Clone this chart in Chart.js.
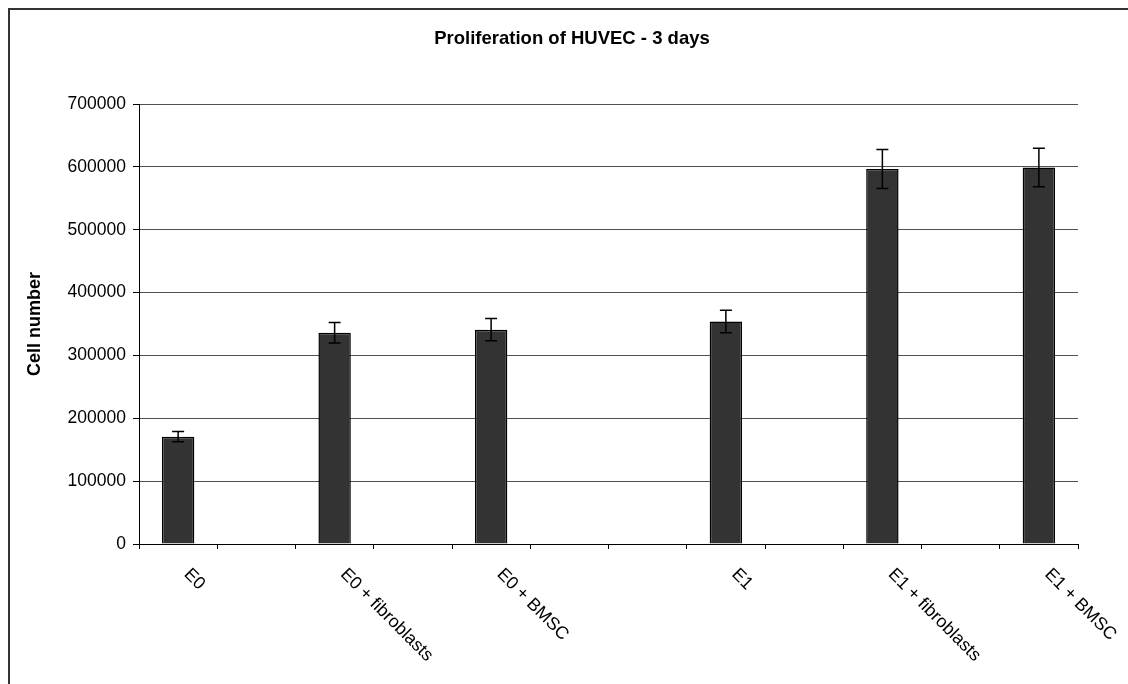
<!DOCTYPE html>
<html>
<head>
<meta charset="utf-8">
<script src="https://cdn.jsdelivr.net/npm/chart.js@4"></script>
<style>
  body { margin: 0; background: #fff; }
  canvas { display: block; }
</style>
</head>
<body>
<canvas id="chart" width="1128" height="684"></canvas>
<script>
// data (empty slots are the gaps on the axis)
const categories = ["E0", "", "E0 + fibroblasts", "", "E0 + BMSC", "", "", "E1", "", "E1 + fibroblasts", "", "E1 + BMSC"];
const cellNumber = [170700, null, 336000, null, 341000, null, null, 354000, null, 596500, null, 599000];
const cellError = [8200, null, 16400, null, 17800, null, null, 17800, null, 31000, null, 30800];
const yMin = 0;
const yMax = 700000;
const yStep = 100000;

const FONT = "'Liberation Sans', Arial, sans-serif";

// outer frame of the chart
const framePlugin = {
  id: "frame",
  beforeDraw(chart) {
    const ctx = chart.ctx;
    ctx.save();
    ctx.strokeStyle = "#333333";
    ctx.lineWidth = 2;
    ctx.strokeRect(9, 9, 1300, 1300);
    ctx.restore();
  },
};

// error bars on top of the columns
const errorBarPlugin = {
  id: "errorBars",
  afterDatasetsDraw(chart) {
    const ctx = chart.ctx;
    const y = chart.scales.y;
    const meta = chart.getDatasetMeta(0);
    ctx.save();
    ctx.strokeStyle = "#000";
    ctx.lineWidth = 1.5;
    cellNumber.forEach((v, i) => {
      if (v == null) return;
      const x = meta.data[i].x;
      const top = y.getPixelForValue(v + cellError[i]);
      const bot = y.getPixelForValue(v - cellError[i]);
      ctx.beginPath();
      ctx.moveTo(x, top);
      ctx.lineTo(x, bot);
      ctx.moveTo(x - 6, top);
      ctx.lineTo(x + 6, top);
      ctx.moveTo(x - 6, bot);
      ctx.lineTo(x + 6, bot);
      ctx.stroke();
    });
    ctx.restore();
  },
};

// category labels turned 45 degrees clockwise, reading down to the right
const xLabelPlugin = {
  id: "xLabels",
  afterDraw(chart) {
    const ctx = chart.ctx;
    const x = chart.scales.x;
    ctx.save();
    ctx.font = "17.8px " + FONT;
    ctx.fillStyle = "#000";
    ctx.textAlign = "left";
    ctx.textBaseline = "alphabetic";
    categories.forEach((label, i) => {
      if (!label) return;
      ctx.save();
      ctx.translate(x.getPixelForValue(i) + 5, x.top + 31);
      ctx.rotate(Math.PI / 4);
      ctx.fillText(label, 0, 0);
      ctx.restore();
    });
    ctx.restore();
  },
};

new Chart(document.getElementById("chart"), {
  type: "bar",
  data: {
    labels: categories,
    datasets: [
      {
        data: cellNumber,
        backgroundColor: "#333333",
        borderColor: "#000",
        borderWidth: 1.5,
        barPercentage: 0.414,
        categoryPercentage: 1,
      },
    ],
  },
  options: {
    responsive: false,
    animation: false,
    layout: { padding: { left: 16, right: 0, top: 0, bottom: 0 } },
    plugins: {
      legend: { display: false },
      tooltip: { enabled: false },
      title: {
        display: true,
        text: "Proliferation of HUVEC - 3 days",
        color: "#000",
        font: { family: FONT, size: 18.5, weight: "bold" },
        padding: { top: 27.9, bottom: 53.9 },
      },
    },
    scales: {
      x: {
        grid: {
          display: true,
          drawOnChartArea: false,
          drawTicks: true,
          tickLength: 5,
          tickColor: "#000",
          offset: true,
        },
        border: { display: true, color: "#000", width: 1 },
        ticks: { display: false },
        afterFit(scale) {
          scale.height = 140;
          scale.paddingLeft = 0;
          scale.paddingRight = 50;
        },
      },
      y: {
        min: yMin,
        max: yMax,
        grid: {
          color: "#505050",
          lineWidth: 1,
          tickLength: 6,
          tickColor: "#000",
        },
        border: { display: true, color: "#000", width: 1 },
        ticks: {
          stepSize: yStep,
          padding: 7,
          color: "#000",
          font: { family: FONT, size: 17.5 },
          callback: (v) => String(v),
        },
        title: {
          display: true,
          text: "Cell number",
          color: "#000",
          font: { family: FONT, size: 18, weight: "bold" },
          padding: { top: 8.7, bottom: 0 },
        },
        afterFit(scale) {
          scale.width = 123;
        },
      },
    },
  },
  plugins: [framePlugin, errorBarPlugin, xLabelPlugin],
});
</script>
</body>
</html>
